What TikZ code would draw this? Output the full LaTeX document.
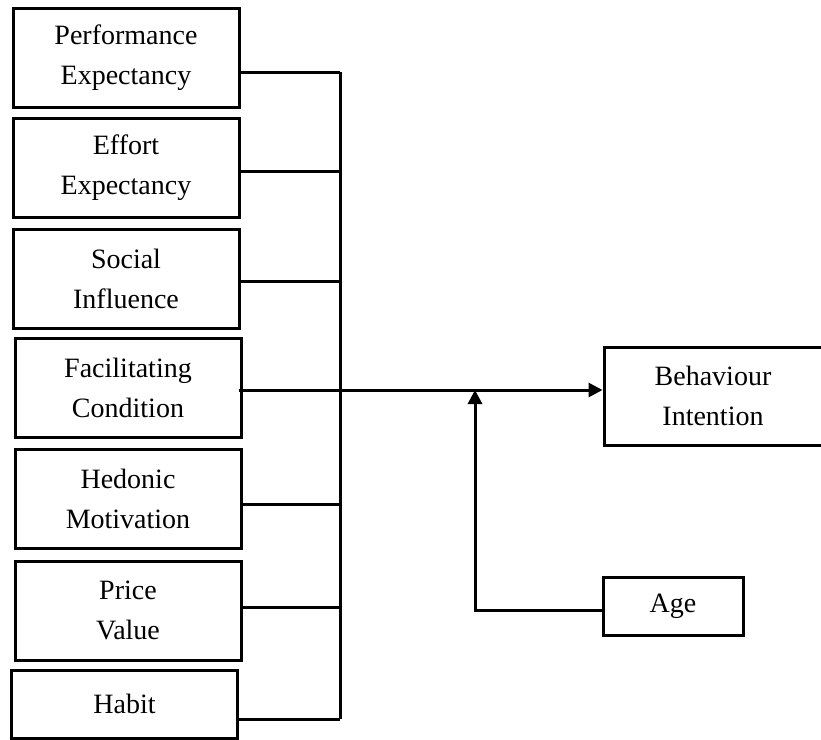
\documentclass[tikz,border=0pt]{standalone}
\usepackage{fontspec}
\setmainfont{Liberation Serif}
\usepackage{tikz}
\usetikzlibrary{arrows.meta}

\begin{document}
\begin{tikzpicture}[x=0.5pt,y=0.5pt,yscale=-1,xscale=1,
    factor/.style={draw, line width=1.5pt, inner sep=0pt, align=center,
        minimum width=113pt, minimum height=49.5pt,
        font=\fontsize{14}{20}\selectfont},
    link/.style={line width=1.5pt},
    tip/.style={line width=1.5pt, -{Triangle[length=7pt,width=7pt]}}]
\useasboundingbox (0,0) rectangle (821,740);

% Predictor boxes
\node [factor] (perf) at (126,57.5) {Performance\\Expectancy};
\node [factor] (effort) at (126,168) {Effort\\Expectancy};
\node [factor] (social) at (126,278.5) {Social\\Influence};
\node [factor] (facil) at (128,387.5) {Facilitating\\Condition};
\node [factor] (hedon) at (128,499) {Hedonic\\Motivation};
\node [factor] (price) at (128,610.5) {Price\\Value};
\node [factor, minimum height=34pt] (habit) at (124.5,704) {Habit};

% Outcome and moderator
\node [factor, minimum width=109pt, minimum height=49pt] (intent) at (713,396) {Behaviour\\Intention};
\node [factor, minimum width=70pt, minimum height=29pt] (age) at (673,606) {Age};

% Bus points
\coordinate (bus1) at (340,72);
\coordinate (bus2) at (340,171);
\coordinate (bus3) at (340,281);
\coordinate (bus5) at (340,504);
\coordinate (bus6) at (340,607);
\coordinate (bus7) at (340,719);
\coordinate (mod) at (475,390);
\coordinate (turn) at (475,610);

% Straight Lines
\draw [link] (perf.east |- bus1) -- (bus1);
\draw [link] (effort.east |- bus2) -- (bus2);
\draw [link] (social.east |- bus3) -- (bus3);
\draw [link] (hedon.east |- bus5) -- (bus5);
\draw [link] (price.east |- bus6) -- (bus6);
\draw [link] (habit.east |- bus7) -- (bus7);
\draw [link] (bus1) -- (bus7);
\draw [tip] ([xshift=-2pt]facil.east |- mod) -- (intent.west |- mod);
\draw [tip] (age.west |- turn) -- (turn) -- (mod);
\end{tikzpicture}
\end{document}
